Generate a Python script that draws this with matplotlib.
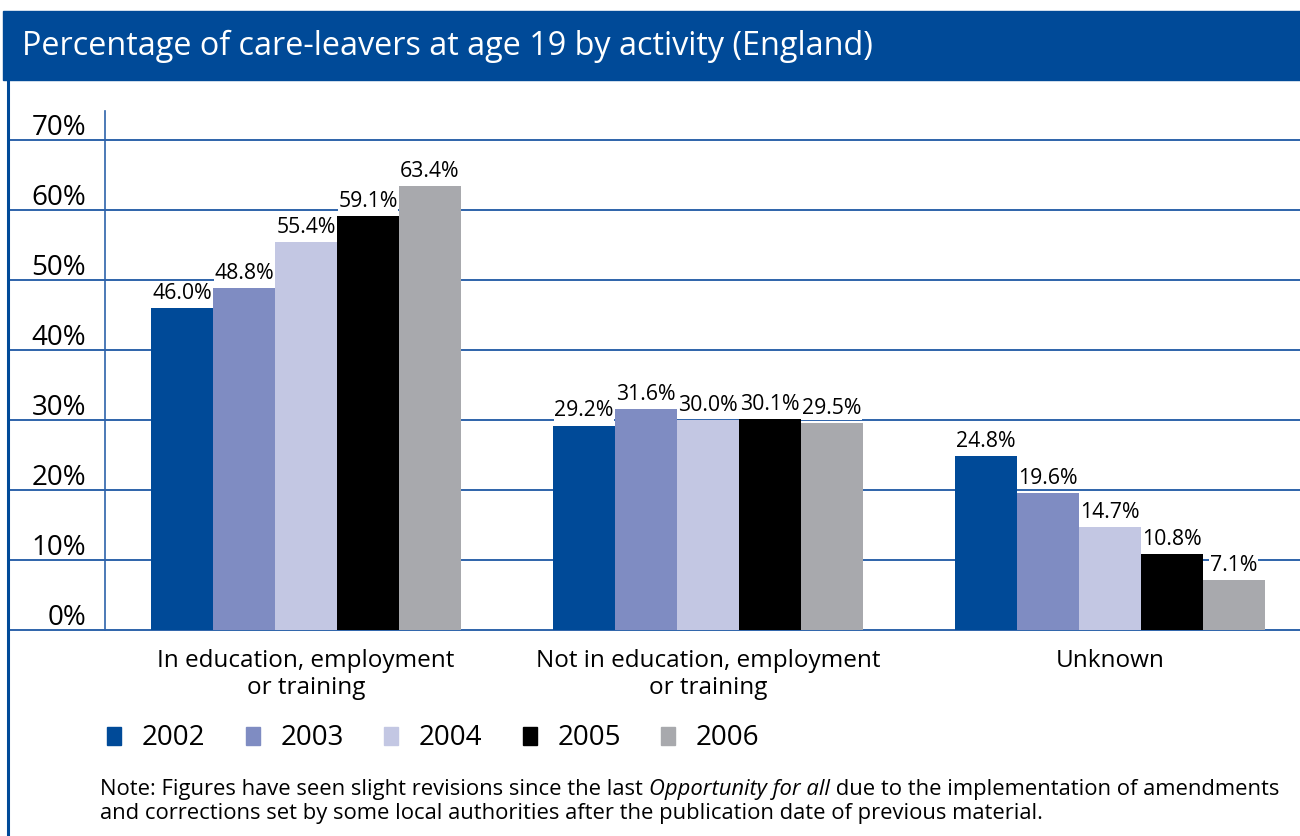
import matplotlib
matplotlib.use("Agg")
import matplotlib.pyplot as plt
from matplotlib.patches import Rectangle
from matplotlib.transforms import blended_transform_factory
import numpy as np

plt.rcParams['font.family'] = ['Open Sans', 'DejaVu Sans']

categories = ['In education, employment\nor training',
              'Not in education, employment\nor training',
              'Unknown']
years = ['2002', '2003', '2004', '2005', '2006']
values = {
    '2002': [46.0, 29.2, 24.8],
    '2003': [48.8, 31.6, 19.6],
    '2004': [55.4, 30.0, 14.7],
    '2005': [59.1, 30.1, 10.8],
    '2006': [63.4, 29.5, 7.1],
}
colors = ['#004a98', '#7f8cc2', '#c3c7e3', '#000000', '#a8a9ad']
yticks = [0, 10, 20, 30, 40, 50, 60, 70]

title = 'Percentage of care-leavers at age 19 by activity (England)'
note_parts = ['Note: Figures have seen slight revisions since the last ',
              'Opportunity for all',
              ' due to the implementation of amendments']
note_line2 = ('and corrections set by some local authorities after the '
              'publication date of previous material.')

W, H = 1300, 836
BLUE = '#004a98'
LINE = '#2e63aa'

fig = plt.figure(figsize=(W / 100, H / 100), dpi=100)


def fx(px):
    return px / W


def fy(py):
    return 1 - py / H


# header band and left border
fig.patches.append(Rectangle((fx(3), fy(80)), fx(W - 3), fy(11) - fy(80),
                             transform=fig.transFigure, color=BLUE, zorder=0))
fig.add_artist(plt.Line2D([fx(7.5), fx(7.5)], [fy(80), 0], color=BLUE,
                          lw=2.2, transform=fig.transFigure))
fig.text(fx(22), fy(46), title, color='white', fontsize=23.3,
         va='center', ha='left')

# main plot area
ax = fig.add_axes([fx(105), fy(630), fx(W - 105), fy(111) - fy(630)])
n = len(years)
width = 0.154
x = np.arange(len(categories))
ax.set_xlim(-0.5, 2.473)
ax.set_ylim(0, 74.14)

for j, yr in enumerate(years):
    pos = x + (j - (n - 1) / 2) * width
    bars = ax.bar(pos, values[yr], width=width, color=colors[j], zorder=3)
    for b, v in zip(bars, values[yr]):
        ax.annotate(f'{v:.1f}%', (b.get_x() + b.get_width() / 2, v),
                    xytext=(0, 3), textcoords='offset points',
                    ha='center', va='bottom', fontsize=15.3, zorder=4,
                    bbox=dict(facecolor='white', edgecolor='none', pad=0.5))

# gridlines run out to the left border
left_frac = -(105 - 8) / (W - 105)
for t in yticks:
    ax.axhline(t, xmin=left_frac, xmax=1, color=LINE, lw=1.4,
               clip_on=False, zorder=1)

ylab_tr = blended_transform_factory(fig.transFigure, ax.transData)
for t in yticks:
    ax.text(fx(86), t + 0.7, f'{t}%', transform=ylab_tr, ha='right',
            va='baseline', fontsize=20)

for s in ['top', 'right', 'bottom']:
    ax.spines[s].set_visible(False)
ax.spines['left'].set_color(LINE)
ax.spines['left'].set_linewidth(1.2)
ax.set_yticks([])
ax.set_xticks(x)
ax.set_xticklabels(categories, fontsize=17.5, linespacing=1.12)
ax.tick_params(axis='x', length=0, pad=14)

# legend
lx = 107
for j, yr in enumerate(years):
    fig.patches.append(Rectangle((fx(lx), fy(745)), fx(14), fy(727) - fy(745),
                                 transform=fig.transFigure, color=colors[j]))
    fig.text(fx(lx + 35), fy(738), yr, fontsize=20, va='center', ha='left')
    lx += 138.5

# note text with italic title
fig.canvas.draw()
renderer = fig.canvas.get_renderer()
nx = 100
for k, part in enumerate(note_parts):
    t = fig.text(fx(nx), fy(789), part, fontsize=15.8, va='center', ha='left',
                 style='italic' if k == 1 else 'normal')
    nx = t.get_window_extent(renderer).x1
fig.text(fx(100), fy(813), note_line2, fontsize=15.8, va='center', ha='left')

fig.savefig('out.png', dpi=100)
